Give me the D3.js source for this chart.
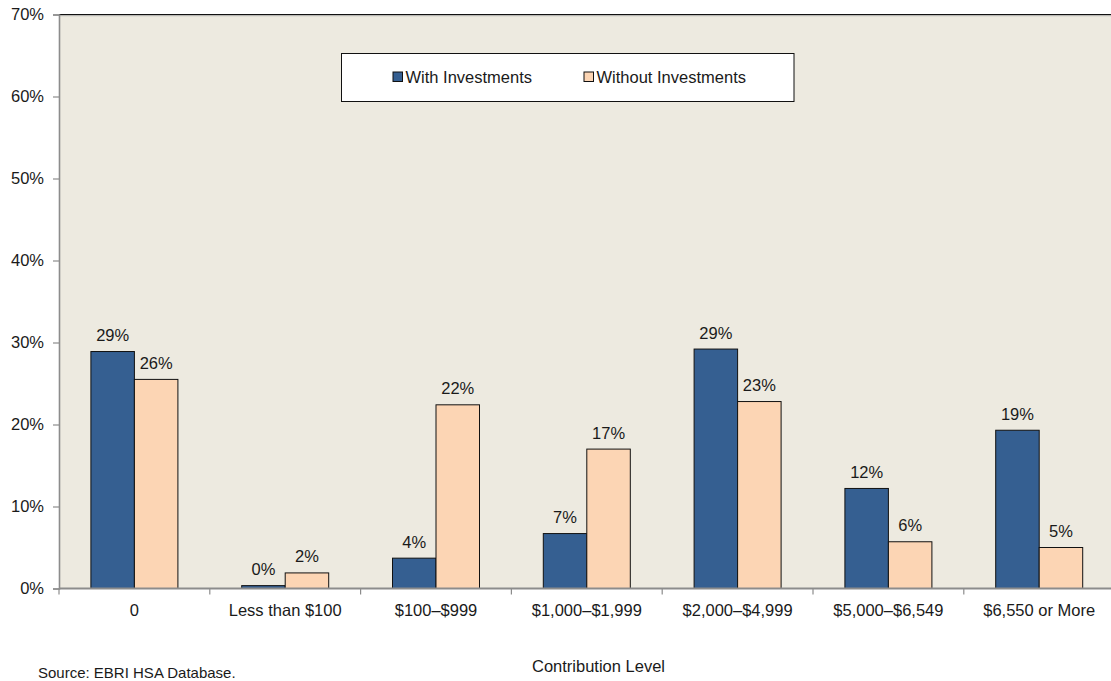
<!DOCTYPE html>
<html>
<head>
<meta charset="utf-8">
<script src="https://cdn.jsdelivr.net/npm/d3@7/dist/d3.min.js"></script>
<style>
  html, body { margin: 0; padding: 0; background: #ffffff; }
  svg { display: block; font-family: "Liberation Sans", Arial, sans-serif; }
</style>
</head>
<body>
<svg id="chart" width="1111" height="681"></svg>
<script>
// HSA contribution distribution, by investment status
const categories = ["0", "Less than $100", "$100\u2013$999", "$1,000\u2013$1,999",
                    "$2,000\u2013$4,999", "$5,000\u2013$6,549", "$6,550 or More"];
const seriesNames = ["With Investments", "Without Investments"];
const withInvestments    = [28.9, 0.35, 3.7, 6.7, 29.2, 12.2, 19.3];
const withoutInvestments = [25.5, 1.9, 22.4, 17.0, 22.8, 5.7, 5.0];
const yTicks = [0, 10, 20, 30, 40, 50, 60, 70];

const colors = ["#355F91", "#FCD5B4"];
const FS = 16.5;

const svg = d3.select("#chart");
const plot = { left: 59, top: 14.5, right: 1114.6, bottom: 588.5 };

const x = d3.scaleBand().domain(categories).range([plot.left, plot.right]).padding(0);
const groupFrac = 87 / 150.8;
const x1 = d3.scaleBand().domain(seriesNames)
  .range([x.bandwidth() * (1 - groupFrac) / 2, x.bandwidth() * (1 + groupFrac) / 2]);
const y = d3.scaleLinear().domain([0, 70]).range([plot.bottom, plot.top]);

// plot area background
svg.append("rect")
  .attr("x", plot.left).attr("y", plot.top)
  .attr("width", plot.right - plot.left).attr("height", plot.bottom - plot.top)
  .attr("fill", "#EDEAE0");

// top border
svg.append("line")
  .attr("x1", plot.left).attr("x2", plot.right)
  .attr("y1", plot.top).attr("y2", plot.top)
  .attr("stroke", "#111").attr("stroke-width", 1.2);
svg.append("line")
  .attr("x1", plot.left).attr("x2", plot.right)
  .attr("y1", plot.top + 1.2).attr("y2", plot.top + 1.2)
  .attr("stroke", "#9a9a9a").attr("stroke-width", 0.8);

// bars
const rows = categories.map((c, i) => ({ cat: c, vals: [withInvestments[i], withoutInvestments[i]] }));
const groups = svg.append("g").selectAll("g").data(rows).join("g")
  .attr("transform", d => `translate(${x(d.cat)},0)`);

groups.selectAll("rect")
  .data(d => d.vals.map((v, j) => ({ name: seriesNames[j], v, j })))
  .join("rect")
  .attr("x", d => x1(d.name))
  .attr("y", d => y(d.v))
  .attr("width", x1.bandwidth())
  .attr("height", d => y(0) - y(d.v))
  .attr("fill", d => colors[d.j])
  .attr("stroke", "#111")
  .attr("stroke-width", 1);

const fmt = v => Math.round(v) + "%";
groups.selectAll("text.lbl")
  .data(d => d.vals.map((v, j) => ({ name: seriesNames[j], v, j })))
  .join("text")
  .attr("class", "lbl")
  .attr("x", d => x1(d.name) + x1.bandwidth() / 2)
  .attr("y", d => y(d.v) - 10.5)
  .attr("text-anchor", "middle")
  .attr("font-size", FS)
  .attr("fill", "#1a1a1a")
  .text(d => fmt(d.v));

// y axis
const yAxis = d3.axisLeft(y).tickValues(yTicks).tickFormat(d => d + "%").tickSize(6).tickPadding(9);
const gy = svg.append("g").attr("transform", `translate(${plot.left},0)`).call(yAxis);
gy.select(".domain").attr("stroke", "#8c8c8c").attr("stroke-width", 1.6);
gy.selectAll(".tick line").attr("stroke", "#8c8c8c").attr("stroke-width", 1.2);
gy.selectAll(".tick text").attr("font-size", FS).attr("fill", "#1a1a1a")
  .attr("font-family", "Liberation Sans, Arial, sans-serif");

// x axis: category labels centred, tick marks on the band boundaries
const gx = svg.append("g").attr("transform", `translate(0,${plot.bottom})`);
gx.append("line")
  .attr("x1", plot.left).attr("x2", plot.right)
  .attr("stroke", "#8c8c8c").attr("stroke-width", 2);
gx.selectAll("line.tk")
  .data(categories.map(c => x(c)).concat([plot.right]))
  .join("line").attr("class", "tk")
  .attr("x1", d => d).attr("x2", d => d)
  .attr("y1", 0).attr("y2", 6)
  .attr("stroke", "#8c8c8c").attr("stroke-width", 1.2);
gx.selectAll("text.cat")
  .data(categories).join("text").attr("class", "cat")
  .attr("x", d => x(d) + x.bandwidth() / 2)
  .attr("y", 27)
  .attr("text-anchor", "middle")
  .attr("font-size", FS)
  .attr("fill", "#1a1a1a")
  .text(d => d);

// axis title
svg.append("text")
  .attr("x", 598.5).attr("y", 671.5)
  .attr("text-anchor", "middle")
  .attr("font-size", FS)
  .attr("fill", "#1a1a1a")
  .text("Contribution Level");

// source note
svg.append("text")
  .attr("x", 38).attr("y", 678)
  .attr("font-size", 15)
  .attr("fill", "#1a1a1a")
  .text("Source: EBRI HSA Database.");

// legend
const legend = svg.append("g");
legend.append("rect")
  .attr("x", 341.5).attr("y", 53.5).attr("width", 452.5).attr("height", 48)
  .attr("fill", "#ffffff").attr("stroke", "#111").attr("stroke-width", 1);
const legendX = [393, 584];
seriesNames.forEach((name, j) => {
  legend.append("rect")
    .attr("x", legendX[j]).attr("y", 72).attr("width", 9.5).attr("height", 9.5)
    .attr("fill", colors[j]).attr("stroke", "#111").attr("stroke-width", 1);
  legend.append("text")
    .attr("x", legendX[j] + 12.5).attr("y", 82.5)
    .attr("font-size", FS)
    .attr("fill", "#1a1a1a")
    .text(name);
});
</script>
</body>
</html>
